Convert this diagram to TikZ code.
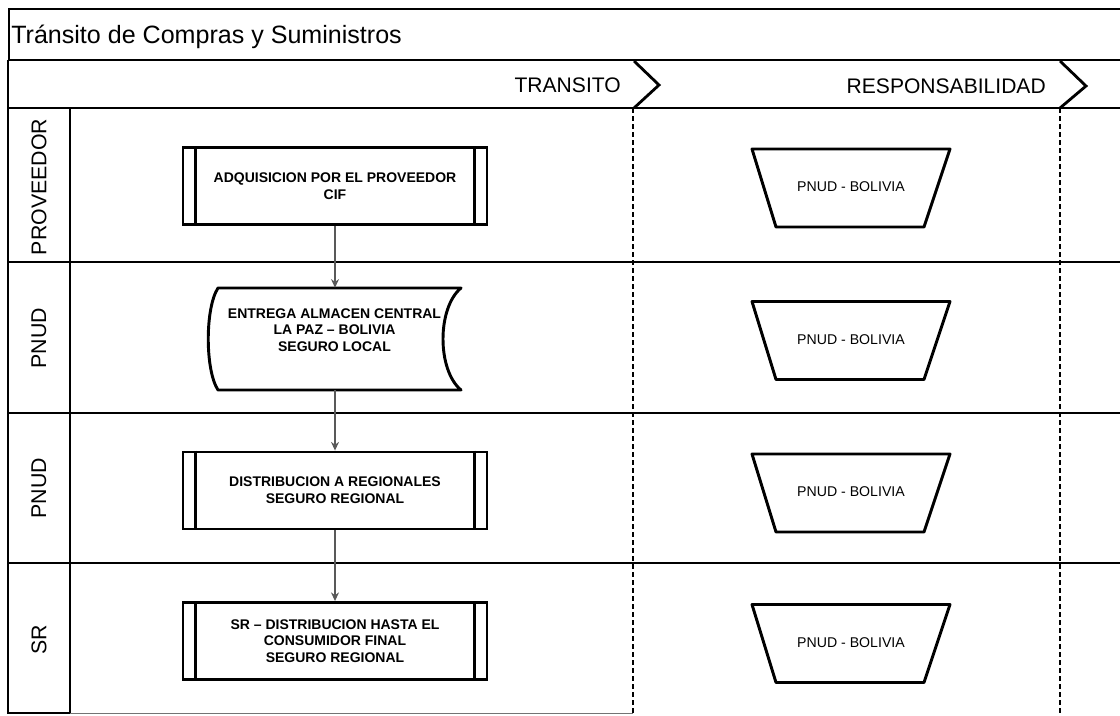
\documentclass[tikz,border=0pt]{standalone}
\usepackage{fontspec}
\setmainfont{Liberation Sans}
\usetikzlibrary{arrows.meta}
\begin{document}
\begin{tikzpicture}[x=0.75pt,y=-0.75pt,
  thinframe/.style={line width=1.1pt},
  thickline/.style={line width=2.1pt},
  dashv/.style={line width=2pt, dash pattern=on 4pt off 2pt},
  procbox/.style={draw, line width=2.2pt, minimum width=228pt, minimum height=57.75pt, inner sep=0pt, align=center, font=\fontsize{10.5}{12.5}\selectfont\bfseries},
  innerline/.style={line width=1.6pt},
  shapeline/.style={line width=2.2pt, line join=round},
  boxtext/.style={align=center, font=\fontsize{10.5}{12.5}\selectfont\bfseries, inner sep=0pt},
  mantext/.style={font=\fontsize{10.6}{12.5}\selectfont, inner sep=0pt},
  lanelabel/.style={rotate=90, font=\fontsize{16}{18}\selectfont, inner sep=0pt},
  phase/.style={font=\fontsize{15.8}{18}\selectfont, inner sep=0pt, anchor=east},
  flow/.style={draw=black!65, line width=0.8pt, -{Stealth[length=6.5pt,width=6pt]}}
]
\useasboundingbox (0,0) rectangle (1120,715);
% title row
\draw[thinframe] (1120,9) -- (9,9) -- (9,60);
\node[anchor=base west, font=\fontsize{18.8}{21}\selectfont, inner sep=0pt] (title) at (11,43) {Tránsito de Compras y Suministros};
% header band
\draw[thickline] (8,60) -- (1120,60);
\draw[thickline] (8,108) -- (1120,108);
\draw[thickline] (8,60) -- (8,713);
\node[phase] (ph1) at (621,85) {TRANSITO};
\node[phase] (ph2) at (1046,86) {RESPONSABILIDAD};
\draw[thickline, line join=miter] (634,61) -- (659,85) -- (634,108);
\draw[thickline, line join=miter] (1060,61) -- (1086,86) -- (1060,108);
% lanes
\foreach \yy in {262,413,563} \draw[thickline] (8,\yy) -- (1120,\yy);
\draw[thickline] (70,108) -- (70,713);
\draw[thickline] (7,713) -- (70,713);
\draw[line width=0.6pt, black!55] (70,713) -- (633,713);
\node[lanelabel] (l1) at (39,187) {PROVEEDOR};
\node[lanelabel] (l2) at (39,338) {PNUD};
\node[lanelabel] (l3) at (39,488) {PNUD};
\node[lanelabel] (l4) at (39,640) {SR};
% phase separators
\draw[dashv] (633,108) -- (633,715);
\draw[dashv] (1060,108) -- (1060,715);
% process boxes
\node[procbox] (b1) at (335,186) {ADQUISICION POR EL PROVEEDOR\\CIF};
\node[procbox] (b3) at (335,490.5) {DISTRIBUCION A REGIONALES\\SEGURO REGIONAL};
\node[procbox] (b4) at (335,641) {SR – DISTRIBUCION HASTA EL\\CONSUMIDOR FINAL\\SEGURO REGIONAL};
\foreach \b in {b1,b3,b4} {
  \draw[innerline] ([xshift=10.5pt]\b.north west) -- ([xshift=10.5pt]\b.south west);
  \draw[innerline] ([xshift=-10.5pt]\b.north east) -- ([xshift=-10.5pt]\b.south east);
}
% stored data shape
\node[minimum width=182.25pt, minimum height=76.5pt, inner sep=0pt] (b2) at (339.5,339) {};
\draw[shapeline] (218,288) -- (461,288) .. controls (437,308) and (437,370) .. (461,390) -- (218,390) .. controls (205,370) and (205,308) .. (218,288) -- cycle;
\node[boxtext] (b2t) at (334.5,330) {ENTREGA ALMACEN CENTRAL\\LA PAZ – BOLIVIA\\SEGURO LOCAL};
% flow arrows
\draw[flow] (b1.south) -- (b1.south |- b2.north);
\draw[flow] (b1.south |- b2.south) -- (b3.north);
\draw[flow] (b3.south) -- (b4.north);
% manual operation shapes
\foreach \yc/\n in {188/1,340.5/2,493/3,643.5/4} {
  \draw[shapeline] (752,{\yc-39}) -- (950,{\yc-39}) -- (924,{\yc+39}) -- (776,{\yc+39}) -- cycle;
  \node[mantext] (m\n) at (851,{\yc-1}) {PNUD - BOLIVIA};
}
\end{tikzpicture}
\end{document}
